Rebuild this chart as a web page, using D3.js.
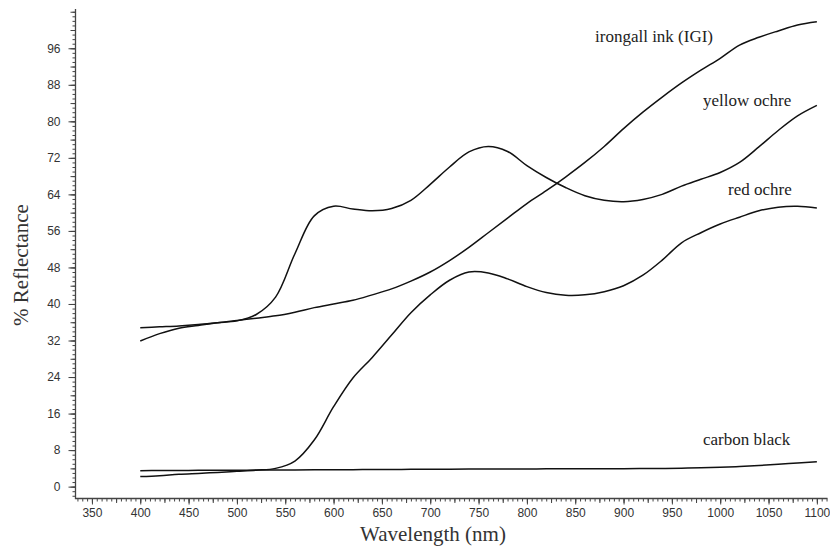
<!DOCTYPE html>
<html>
<head>
<meta charset="utf-8">
<script src="https://cdn.jsdelivr.net/npm/d3@7"></script>
<style>
    body { margin: 0; background: #fff; }
    .tickLabel { font-family: "Liberation Sans", Arial, sans-serif; font-size: 12px; fill: #333; }
    .axisTitle { font-family: "Liberation Serif", "Times New Roman", serif; font-size: 21px; fill: #333; }
    .seriesLabel { font-family: "Liberation Serif", "Times New Roman", serif; font-size: 17px; fill: #222; }
    .curve { fill: none; stroke: #111; stroke-width: 1.5px; }
</style>
</head>
<body>
<script>
//wrap everything in a self-executing anonymous function
(function () {

    //wavelengths (nm) shared by every spectrum
    var wavelengths = [400, 420, 440, 460, 480, 500, 520, 540, 560, 580, 600, 620, 640, 660, 680, 700,
        720, 740, 760, 780, 800, 820, 840, 860, 880, 900, 920, 940, 960, 980, 1000, 1020, 1040, 1060, 1080, 1100];

    //% reflectance
    var irongallInk = [31.9, 33.5, 34.7, 35.3, 35.9, 36.4, 36.9, 37.4, 38.2, 39.2, 40.0, 40.8, 42.0, 43.3, 45.0, 47.0,
        49.5, 52.4, 55.6, 58.8, 62.0, 64.8, 67.8, 71.0, 74.5, 78.4, 82.0, 85.3, 88.4, 91.2, 93.8, 96.7, 98.4, 99.8, 101.1, 101.8];
    var yellowOchre = [34.8, 35.0, 35.2, 35.5, 35.9, 36.3, 37.7, 41.5, 51.0, 59.3, 61.4, 60.8, 60.4, 60.9, 62.7, 66.2,
        70.0, 73.3, 74.5, 73.4, 70.3, 67.7, 65.5, 63.7, 62.7, 62.4, 62.9, 64.0, 65.8, 67.3, 68.8, 71.0, 74.4, 78.0, 81.2, 83.5];
    var redOchre = [2.2, 2.4, 2.7, 2.9, 3.1, 3.35, 3.6, 4.0, 5.6, 10.2, 17.5, 23.8, 28.3, 33.2, 38.1, 42.0,
        45.2, 47.0, 46.8, 45.5, 43.8, 42.5, 41.9, 42.0, 42.7, 44.0, 46.3, 49.6, 53.4, 55.6, 57.5, 59.0, 60.4, 61.2, 61.4, 61.0];
    var carbonBlack = [3.5, 3.52, 3.54, 3.56, 3.58, 3.6, 3.62, 3.64, 3.66, 3.68, 3.7, 3.72, 3.74, 3.76, 3.78, 3.8,
        3.82, 3.84, 3.86, 3.87, 3.88, 3.89, 3.9, 3.91, 3.92, 3.93, 3.95, 3.98, 4.05, 4.12, 4.22, 4.4, 4.62, 4.88, 5.18, 5.45];

    //series names and their label text
    var seriesNames = ["irongall ink (IGI)", "yellow ochre", "red ochre", "carbon black"];
    var seriesValues = [irongallInk, yellowOchre, redOchre, carbonBlack];

    //labelled tick values
    var xTickValues = [350, 400, 450, 500, 550, 600, 650, 700, 750, 800, 850, 900, 950, 1000, 1050, 1100];
    var yTickValues = [0, 8, 16, 24, 32, 40, 48, 56, 64, 72, 80, 88, 96];

    setChart();

    function setChart(){
        var width = 830,
            height = 558;

        var svg = d3.select("body")
            .append("svg")
            .attr("width", width)
            .attr("height", height);

        //scales fitted to the axis frame of the picture
        var x = d3.scaleLinear()
            .domain([333, 1111])
            .range([75.5, 827.5]);

        var y = d3.scaleLinear()
            .domain([-2.6, 104.6])
            .range([498.5, 9]);

        setAxes(svg, x, y);

        //line generator
        var line = d3.line()
            .x(function(d){ return x(d[0]); })
            .y(function(d){ return y(d[1]); })
            .curve(d3.curveCatmullRom.alpha(0.5));

        svg.selectAll(".curve")
            .data(seriesValues)
            .enter()
            .append("path")
            .attr("class", "curve")
            .attr("d", function(vals){
                return line(vals.map(function(v, i){ return [wavelengths[i], v]; }));
            });

        //series labels
        var labelPos = [[595, 42], [703, 106], [728, 195], [703, 445]];
        svg.selectAll(".seriesLabel")
            .data(seriesNames)
            .enter()
            .append("text")
            .attr("class", "seriesLabel")
            .attr("x", function(d, i){ return labelPos[i][0]; })
            .attr("y", function(d, i){ return labelPos[i][1]; })
            .text(function(d){ return d; });

        //axis titles
        svg.append("text")
            .attr("class", "axisTitle")
            .attr("text-anchor", "middle")
            .attr("transform", "translate(28,265) rotate(-90)")
            .text("% Reflectance");

        svg.append("text")
            .attr("class", "axisTitle")
            .attr("text-anchor", "middle")
            .attr("x", 433)
            .attr("y", 541)
            .text("Wavelength (nm)");
    }

    function setAxes(svg, x, y){
        var axisColor = "#444";

        //minor, medium and major ticks on the y axis
        var yMinor = d3.range(-2, 105, 1),
            yMedium = d3.range(0, 105, 4);

        var gy = svg.append("g").attr("transform", "translate(75.5,0)");
        gy.append("g").call(d3.axisLeft(y).tickValues(yMinor).tickSize(3).tickFormat(""));
        gy.append("g").call(d3.axisLeft(y).tickValues(yMedium).tickSize(5).tickFormat(""));
        gy.append("g").call(d3.axisLeft(y).tickValues(yTickValues).tickSize(7).tickPadding(8)
            .tickFormat(d3.format("d")));

        //minor, medium and major ticks on the x axis
        var xMinor = d3.range(335, 1111, 5),
            xMedium = d3.range(350, 1111, 25);

        var gx = svg.append("g").attr("transform", "translate(0,498.5)");
        gx.append("g").call(d3.axisBottom(x).tickValues(xMinor).tickSize(3).tickFormat(""));
        gx.append("g").call(d3.axisBottom(x).tickValues(xMedium).tickSize(4.5).tickFormat(""));
        gx.append("g").call(d3.axisBottom(x).tickValues(xTickValues).tickSize(6).tickPadding(4)
            .tickFormat(d3.format("d")));

        svg.selectAll(".domain").remove();
        svg.selectAll(".tick line").attr("stroke", axisColor);
        svg.selectAll(".tick text")
            .attr("class", "tickLabel")
            .attr("fill", null)
            .attr("font-family", null)
            .attr("font-size", null);

        //the L-shaped frame of the axes
        svg.append("path")
            .attr("d", "M75.5," + y.range()[1] + "V498.5H" + x.range()[1])
            .attr("fill", "none")
            .attr("stroke", axisColor)
            .attr("stroke-width", 1.3);
    }

})();
</script>
</body>
</html>
